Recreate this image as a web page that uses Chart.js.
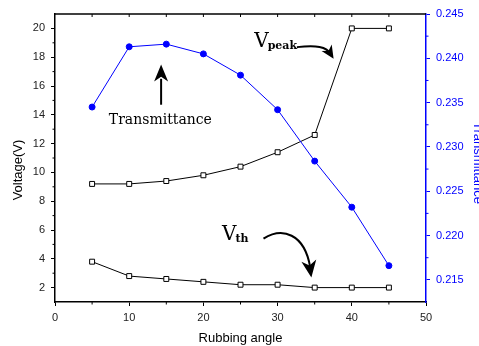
<!DOCTYPE html>
<html>
<head>
<meta charset="utf-8">
<script src="https://cdn.jsdelivr.net/npm/chart.js@4/dist/chart.umd.min.js"></script>
<style>
  html, body { margin: 0; padding: 0; background: #fff; }
</style>
</head>
<body>
<canvas id="rubbingChart" width="479" height="346"></canvas>
<script>
// rubbing angle (deg) vs. threshold / peak voltage and transmittance
const angles = [5, 10, 15, 20, 25, 30, 35, 40, 45];
const vPeak = [9.2, 9.2, 9.4, 9.8, 10.4, 11.4, 12.6, 20, 20];
const vTh = [3.8, 2.8, 2.6, 2.4, 2.2, 2.2, 2.0, 2.0, 2.0];
const transmittance = [0.2345, 0.2413, 0.2416, 0.2405, 0.2381, 0.2342, 0.2284, 0.2232, 0.2166];

const angleTicks = [0, 10, 20, 30, 40, 50];
const voltageTicks = [2, 4, 6, 8, 10, 12, 14, 16, 18, 20];
const transTicks = [0.215, 0.220, 0.225, 0.230, 0.235, 0.240, 0.245];

const BLUE = '#0000ff';
const TICK_FONT = { family: 'Liberation Sans, Arial, sans-serif', size: 11 };

function pairs(ys) {
  return angles.map((a, i) => ({ x: a, y: ys[i] }));
}

function fixedTicks(list) {
  return scale => { scale.ticks = list.map(v => ({ value: v })); };
}

function arrowHead(ctx, x, y, ang, len, half) {
  ctx.save();
  ctx.translate(x, y);
  ctx.rotate(ang);
  ctx.beginPath();
  ctx.moveTo(0, 0);
  ctx.lineTo(-len, -half);
  ctx.lineTo(-len * 0.72, 0);
  ctx.lineTo(-len, half);
  ctx.closePath();
  ctx.fill();
  ctx.restore();
}

// label with a bold subscript, e.g. V_peak
function subLabel(ctx, main, sub, x, y) {
  ctx.textAlign = 'left';
  ctx.textBaseline = 'alphabetic';
  ctx.font = '20px "DejaVu Serif", serif';
  ctx.fillText(main, x, y);
  const w = ctx.measureText(main).width;
  ctx.font = 'bold 11px "DejaVu Serif", serif';
  ctx.fillText(sub, x + w - 1, y + 2);
}

const decor = {
  id: 'decor',
  afterDraw(chart) {
    const { ctx, chartArea: area, scales } = chart;
    const { x: xs, y: ys, y2 } = scales;
    const px = v => xs.getPixelForValue(v);
    const py = v => ys.getPixelForValue(v);
    ctx.save();

    // top frame with inward ticks
    ctx.strokeStyle = '#000';
    ctx.lineWidth = 1.5;
    ctx.beginPath();
    ctx.moveTo(area.left, area.top);
    ctx.lineTo(area.right, area.top);
    ctx.stroke();
    ctx.lineWidth = 1;
    ctx.beginPath();
    for (let a = 5; a < 50; a += 5) {
      ctx.moveTo(px(a), area.top);
      ctx.lineTo(px(a), area.top + 3);
    }
    // minor ticks, bottom axis
    for (let a = 5; a < 50; a += 10) {
      ctx.moveTo(px(a), area.bottom);
      ctx.lineTo(px(a), area.bottom + 2.5);
    }
    // minor ticks, left axis
    for (let v = 3; v < 21; v += 2) {
      ctx.moveTo(area.left, py(v));
      ctx.lineTo(area.left - 2.5, py(v));
    }
    ctx.stroke();
    // minor ticks, right axis
    ctx.strokeStyle = BLUE;
    ctx.beginPath();
    for (let v = 0.2175; v < 0.245; v += 0.005) {
      const yy = y2.getPixelForValue(v);
      ctx.moveTo(area.right, yy);
      ctx.lineTo(area.right + 2.5, yy);
    }
    ctx.stroke();

    // axis titles
    ctx.fillStyle = '#000';
    ctx.font = '13px "Liberation Sans", Arial, sans-serif';
    ctx.textAlign = 'center';
    ctx.textBaseline = 'middle';
    ctx.fillText('Rubbing angle', (area.left + area.right) / 2, 338);
    ctx.save();
    ctx.translate(18, (area.top + area.bottom) / 2 + 12);
    ctx.rotate(-Math.PI / 2);
    ctx.fillText('Voltage(V)', 0, 0);
    ctx.restore();
    // right title runs off the canvas edge
    ctx.save();
    ctx.fillStyle = BLUE;
    ctx.translate(chart.width - 1, (area.top + area.bottom) / 2 + 5);
    ctx.rotate(Math.PI / 2);
    ctx.fillText('Transmittance', 0, 0);
    ctx.restore();

    // annotations
    ctx.fillStyle = '#000';
    ctx.strokeStyle = '#000';
    ctx.font = '14px "DejaVu Serif", serif';
    ctx.textAlign = 'center';
    ctx.textBaseline = 'alphabetic';
    ctx.fillText('Transmittance', px(14.2), py(13.35));

    ctx.lineWidth = 2;
    ctx.beginPath();
    ctx.moveTo(px(14.3), py(14.7));
    ctx.lineTo(px(14.3), py(16.5));
    ctx.stroke();
    arrowHead(ctx, px(14.3), py(17.5), -Math.PI / 2, 17, 7);

    ctx.fillStyle = '#000';
    subLabel(ctx, 'V', 'peak', px(26.85), py(18.73));
    subLabel(ctx, 'V', 'th', px(22.5), py(5.3));

    // curved arrow towards V_peak
    ctx.lineWidth = 2;
    ctx.beginPath();
    ctx.moveTo(px(32.6), py(18.7));
    ctx.bezierCurveTo(px(35.2), py(18.85), px(36.6), py(18.75), px(37.2), py(18.2));
    ctx.stroke();
    arrowHead(ctx, px(37.55), py(17.9), Math.atan2(11, 7), 13, 6);

    // curved arrow towards V_th
    ctx.beginPath();
    ctx.moveTo(px(28.1), py(5.4));
    ctx.bezierCurveTo(px(30.6), py(6.2), px(33.6), py(5.8), px(34.4), py(3.4));
    ctx.stroke();
    arrowHead(ctx, px(34.55), py(2.7), Math.atan2(1, 0.15), 17, 7.5);

    ctx.restore();
  }
};

new Chart(document.getElementById('rubbingChart'), {
  type: 'line',
  data: {
    datasets: [
      {
        label: 'Transmittance',
        data: pairs(transmittance),
        yAxisID: 'y2',
        borderColor: BLUE,
        backgroundColor: BLUE,
        borderWidth: 1,
        pointRadius: 3,
        pointStyle: 'circle'
      },
      {
        label: 'Vpeak',
        data: pairs(vPeak),
        yAxisID: 'y',
        borderColor: '#000',
        backgroundColor: '#fff',
        borderWidth: 1,
        pointRadius: 3.5,
        pointBorderWidth: 1,
        pointStyle: 'rect'
      },
      {
        label: 'Vth',
        data: pairs(vTh),
        yAxisID: 'y',
        borderColor: '#000',
        backgroundColor: '#fff',
        borderWidth: 1,
        pointRadius: 3.5,
        pointBorderWidth: 1,
        pointStyle: 'rect'
      }
    ]
  },
  options: {
    responsive: false,
    animation: false,
    layout: { padding: { top: 14, left: 0, right: 0, bottom: 0 } },
    plugins: { legend: { display: false }, tooltip: { enabled: false } },
    elements: { line: { tension: 0 } },
    scales: {
      x: {
        type: 'linear',
        min: 0,
        max: 50,
        afterBuildTicks: fixedTicks(angleTicks),
        afterFit: s => { s.height = 44; },
        border: { color: '#000', width: 1.5 },
        grid: { drawOnChartArea: false, color: '#000', tickLength: 4 },
        ticks: { font: TICK_FONT, color: '#222', padding: 5, maxRotation: 0 }
      },
      y: {
        type: 'linear',
        position: 'left',
        min: 1,
        max: 21,
        afterBuildTicks: fixedTicks(voltageTicks),
        afterFit: s => { s.width = 55; },
        border: { color: '#000', width: 1.5 },
        grid: { drawOnChartArea: false, color: '#000', tickLength: 4 },
        ticks: { font: TICK_FONT, color: '#222', padding: 6 }
      },
      y2: {
        type: 'linear',
        position: 'right',
        min: 0.2125,
        max: 0.245,
        afterBuildTicks: fixedTicks(transTicks),
        afterFit: s => { s.width = 53; },
        border: { color: BLUE, width: 1.5 },
        grid: { drawOnChartArea: false, color: BLUE, tickLength: 4 },
        ticks: { font: TICK_FONT, color: BLUE, padding: 6, callback: v => v.toFixed(3) }
      }
    }
  },
  plugins: [decor]
});
</script>
</body>
</html>
